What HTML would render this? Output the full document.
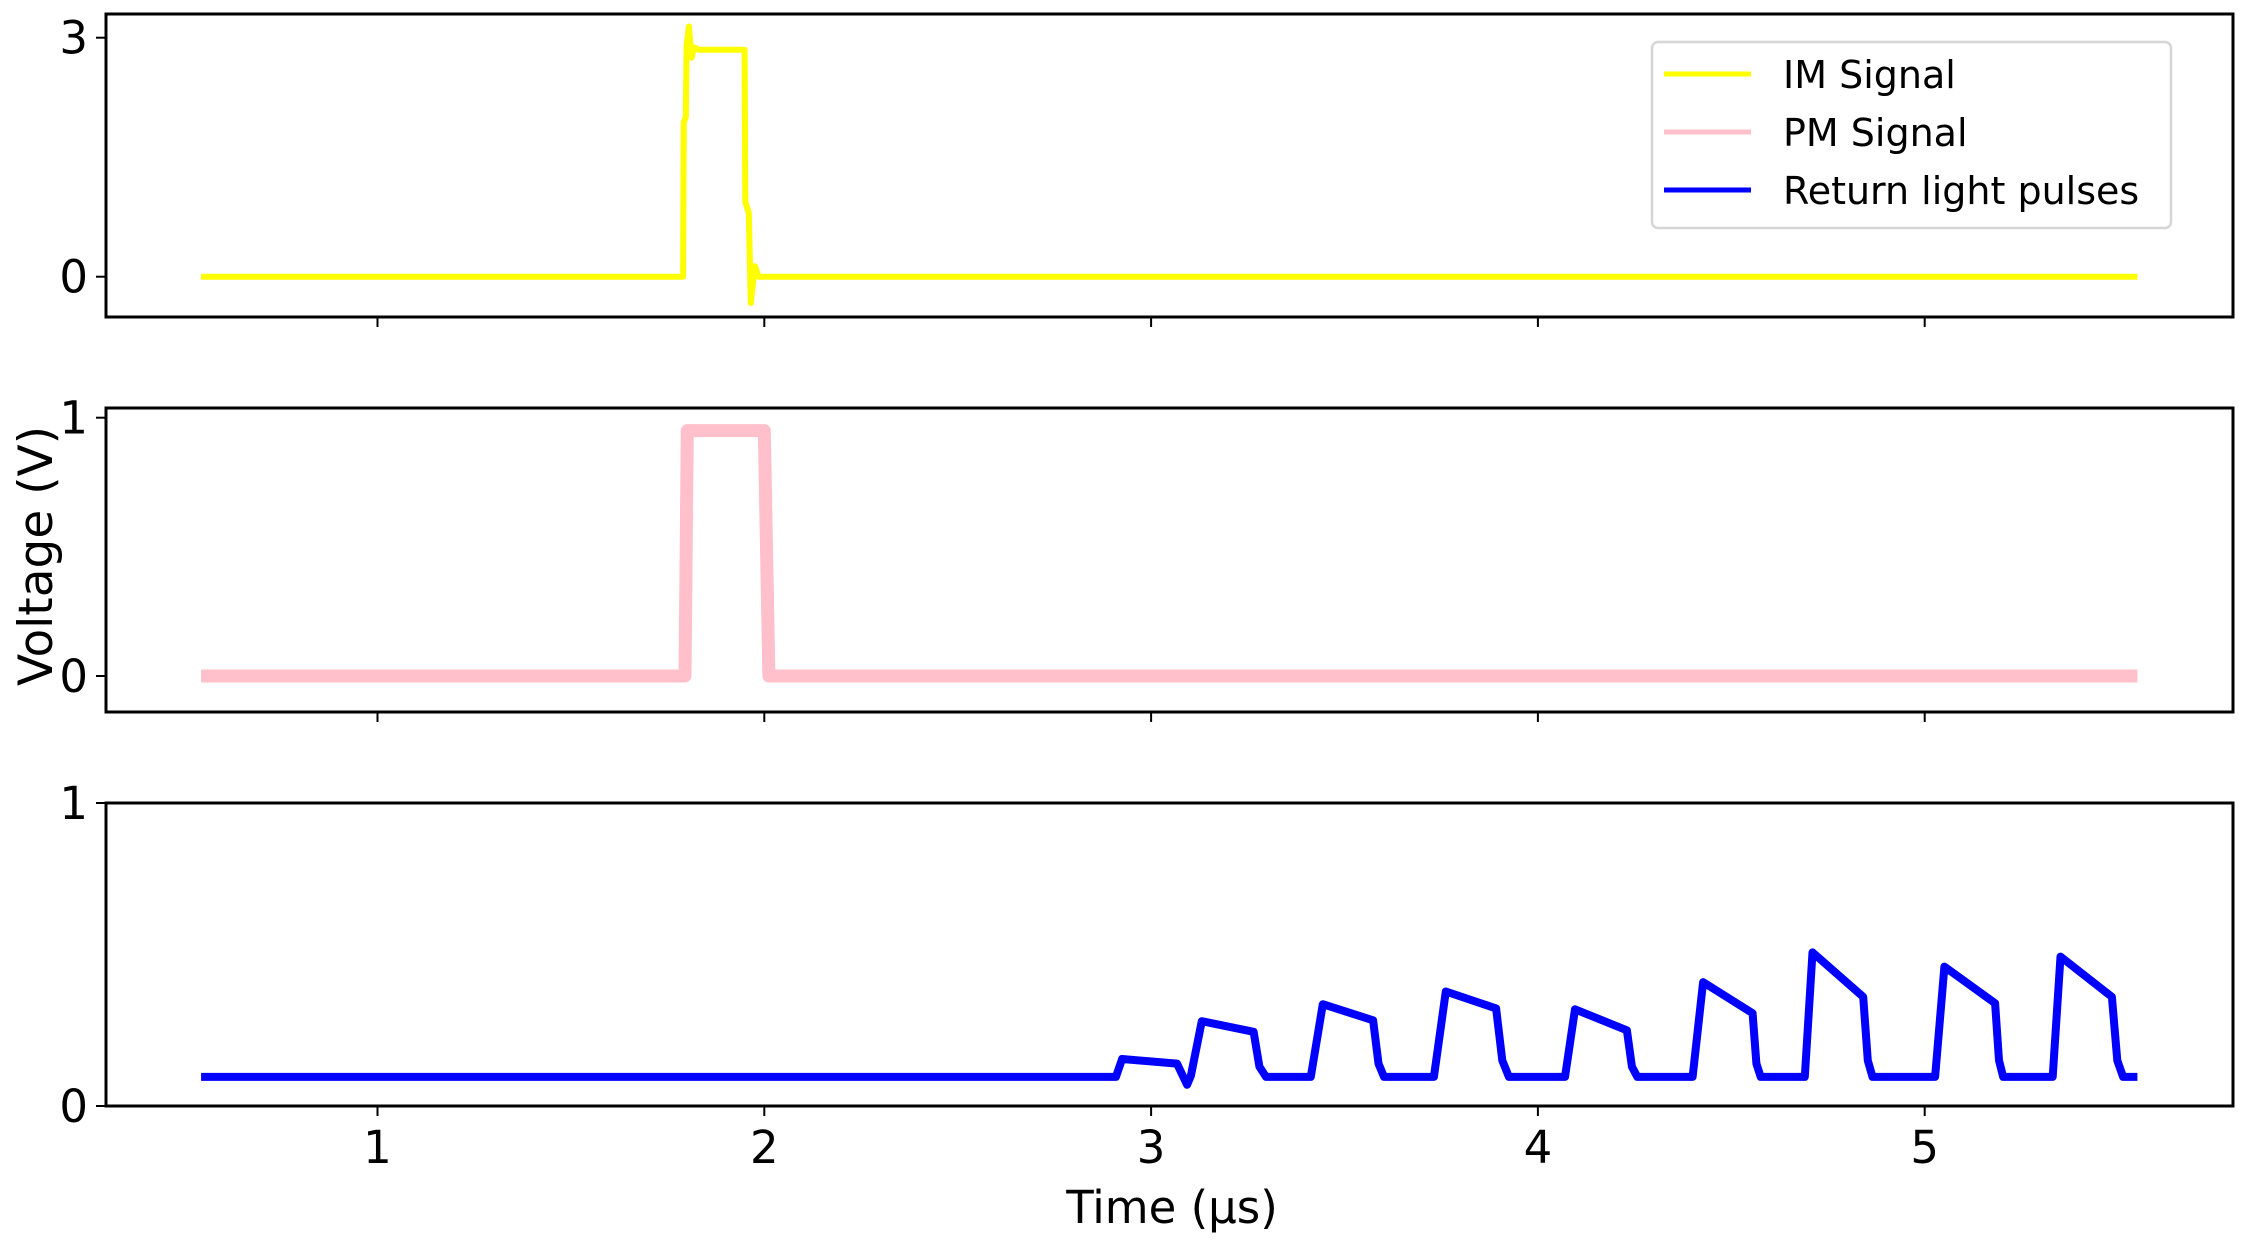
<!DOCTYPE html>
<html><head><meta charset="utf-8"><style>
html,body{margin:0;padding:0;background:#fff;}
svg{display:block;font-family:"DejaVu Sans","Liberation Sans",sans-serif;}
</style></head><body>
<svg id="chart" width="2255" height="1245" viewBox="0 0 2255 1245" xmlns="http://www.w3.org/2000/svg">
<text x="0" y="0" transform="translate(52,556) rotate(-90)" font-size="47" text-anchor="middle">Voltage (V)</text>
<text x="1172" y="1223" font-size="45" text-anchor="middle">Time (µs)</text>
<g>
<rect x="1652" y="42" width="519" height="186" rx="6" fill="#fff" stroke="#d6d6d6" stroke-width="2.5"/>
<line x1="1664" y1="74" x2="1751" y2="74" stroke="#ffff00" stroke-width="5"/>
<text x="1783" y="88" font-size="38">IM Signal</text>
<line x1="1664" y1="132" x2="1751" y2="132" stroke="#ffc0cb" stroke-width="5"/>
<text x="1783" y="146" font-size="38">PM Signal</text>
<line x1="1664" y1="190" x2="1751" y2="190" stroke="#0000ff" stroke-width="5"/>
<text x="1783" y="204" font-size="38">Return light pulses</text>
</g>
</svg>
<script>
// ---- data ----
const xTicks = [1, 2, 3, 4, 5];
const imTimes  = [0.544, 1.790, 1.792, 1.797, 1.799, 1.805, 1.812, 1.818, 1.830, 1.949, 1.951, 1.960, 1.965, 1.970, 1.976, 1.985, 5.550];
const imValues = [0, 0, 1.94, 2.0, 2.9, 3.14, 2.75, 2.88, 2.85, 2.85, 0.94, 0.8, -0.33, -0.1, 0.13, 0, 0];
const pmTimes  = [0.544, 1.795, 1.801, 2.000, 2.012, 5.550];
const pmValues = [0, 0, 0.95, 0.95, 0, 0];
const rlTimes  = [0.544, 2.909, 2.925, 3.067, 3.093, 3.103, 3.131, 3.265, 3.280, 3.297, 3.413, 3.444, 3.574, 3.588, 3.602, 3.731, 3.762, 3.892, 3.908, 3.925, 4.070, 4.096, 4.230, 4.243, 4.257, 4.400, 4.427, 4.555, 4.565, 4.576, 4.690, 4.710, 4.841, 4.853, 4.865, 5.027, 5.051, 5.182, 5.192, 5.203, 5.331, 5.351, 5.484, 5.498, 5.513, 5.550];
const rlValues = [0.096, 0.096, 0.155, 0.14, 0.07, 0.1, 0.28, 0.245, 0.13, 0.096, 0.096, 0.336, 0.283, 0.14, 0.096, 0.096, 0.378, 0.322, 0.15, 0.096, 0.096, 0.319, 0.25, 0.13, 0.096, 0.096, 0.409, 0.306, 0.14, 0.096, 0.096, 0.507, 0.36, 0.15, 0.096, 0.096, 0.46, 0.339, 0.15, 0.096, 0.096, 0.493, 0.36, 0.15, 0.096, 0.096];
const p1Ticks = [0, 3];
const p2Ticks = [0, 1];
const p3Ticks = [0, 1];

const NS = "http://www.w3.org/2000/svg";
const svg = document.getElementById('chart');
const L = 106, R = 2233;
const xs = t => 377.5 + (t - 1) * 386.8;
function mk(tag, attrs) { const e = document.createElementNS(NS, tag); for (const k in attrs) e.setAttribute(k, attrs[k]); svg.appendChild(e); return e; }

const panels = [
  {top: 14, bot: 317, y0: 276.7, y1: 37.7, v1: 3, ticks: p1Ticks, t: imTimes, v: imValues, color: '#ffff00', w: 6, name: 'im'},
  {top: 408, bot: 712, y0: 676, y1: 417.7, v1: 1, ticks: p2Ticks, t: pmTimes, v: pmValues, color: '#ffc0cb', w: 13, name: 'pm'},
  {top: 803, bot: 1106, y0: 1106, y1: 803, v1: 1, ticks: p3Ticks, t: rlTimes, v: rlValues, color: '#0000ff', w: 8, name: 'return'}
];
panels.forEach((p, i) => {
  const ys = v => p.y0 + (p.y1 - p.y0) * v / p.v1;
  const pts = p.t.map((t, j) => xs(t).toFixed(1) + ',' + ys(p.v[j]).toFixed(1)).join(' ');
  const line = mk('polyline', {points: pts, fill: 'none', stroke: p.color, 'stroke-width': p.w, 'stroke-linejoin': 'round'});
  
  
  const frame = mk('rect', {x: L, y: p.top, width: R - L, height: p.bot - p.top, fill: 'none', stroke: '#000', 'stroke-width': 3});
  
  
  p.ticks.forEach(v => {
    const y = ys(v);
    const tk = mk('line', {x1: L - 10, y1: y, x2: L, y2: y, stroke: '#000', 'stroke-width': 2});
    
    
    const lb = mk('text', {x: L - 18, y: y + 16, 'font-size': 45, 'text-anchor': 'end'});
    lb.textContent = v;
    
    
  });
  xTicks.forEach(t => {
    const tk = mk('line', {x1: xs(t), y1: p.bot, x2: xs(t), y2: p.bot + 10, stroke: '#000', 'stroke-width': 2});
    
    
    if (i === 2) {
      const lb = mk('text', {x: xs(t), y: 1163, 'font-size': 45, 'text-anchor': 'middle'});
      lb.textContent = t;
      
      
    }
  });
});
</script>
</body></html>
